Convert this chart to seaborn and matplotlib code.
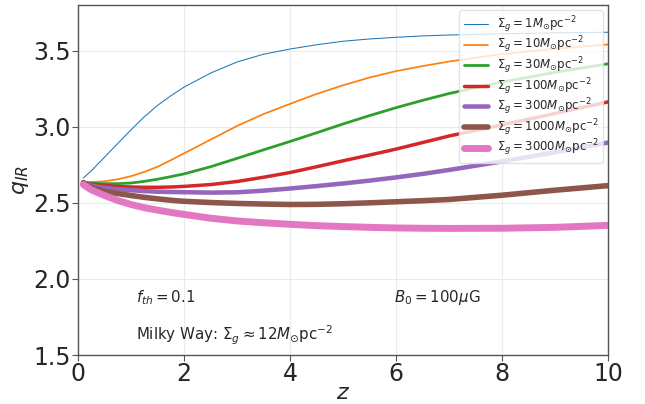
import numpy as np
import pandas as pd
import matplotlib
matplotlib.use("Agg")
import matplotlib.pyplot as plt
import seaborn as sns

z = [0.1, 0.25, 0.5, 0.75, 1.0, 1.25, 1.5, 1.75, 2.0, 2.5, 3.0, 3.5, 4.0,
     4.5, 5.0, 5.5, 6.0, 6.5, 7.0, 8.0, 9.0, 10.0]
sigma_labels = ["1", "10", "30", "100", "300", "1000", "3000"]
q_1 = [2.663, 2.71, 2.80, 2.89, 2.98, 3.065, 3.14, 3.203, 3.26, 3.352, 3.425, 3.476,
       3.51, 3.538, 3.561, 3.576, 3.587, 3.596, 3.602, 3.61, 3.616, 3.62]
q_10 = [2.635, 2.637, 2.641, 2.655, 2.675, 2.703, 2.737, 2.78, 2.825, 2.915, 3.005,
        3.083, 3.15, 3.215, 3.272, 3.323, 3.365, 3.398, 3.428, 3.477, 3.512, 3.54]
q_30 = [2.633, 2.628, 2.626, 2.626, 2.63, 2.641, 2.655, 2.672, 2.69, 2.737, 2.792,
        2.848, 2.903, 2.96, 3.018, 3.073, 3.125, 3.173, 3.218, 3.293, 3.357, 3.413]
q_100 = [2.633, 2.622, 2.614, 2.607, 2.604, 2.602, 2.602, 2.604, 2.608, 2.62, 2.64,
         2.668, 2.699, 2.737, 2.776, 2.814, 2.853, 2.896, 2.939, 3.012, 3.087, 3.163]
q_300 = [2.633, 2.612, 2.598, 2.589, 2.583, 2.577, 2.573, 2.571, 2.57, 2.567, 2.569,
         2.58, 2.594, 2.61, 2.627, 2.646, 2.667, 2.69, 2.716, 2.772, 2.832, 2.896]
q_1000 = [2.633, 2.60, 2.576, 2.561, 2.548, 2.536, 2.526, 2.517, 2.51, 2.502, 2.496,
          2.492, 2.489, 2.49, 2.494, 2.50, 2.507, 2.514, 2.522, 2.55, 2.583, 2.613]
q_3000 = [2.62, 2.585, 2.548, 2.515, 2.489, 2.468, 2.452, 2.437, 2.424, 2.399, 2.381,
          2.369, 2.359, 2.35, 2.344, 2.339, 2.335, 2.333, 2.332, 2.333, 2.339, 2.352]
series = [q_1, q_10, q_30, q_100, q_300, q_1000, q_3000]

x_ticks = [0, 2, 4, 6, 8, 10]
y_ticks = [1.5, 2.0, 2.5, 3.0, 3.5]

colors = ["#1f77b4", "#ff7f0e", "#2ca02c", "#d62728", "#9467bd", "#8c564b", "#e377c2"]
widths = [0.75, 1.25, 2.0, 2.5, 3.25, 4.0, 5.0]

sns.set_style("whitegrid", {"axes.edgecolor": "#555555", "grid.color": "#ebebeb",
                            "xtick.bottom": True, "ytick.left": True})
plt.rcParams["font.family"] = ["DejaVu Sans"]

fig = plt.figure(figsize=(6.45, 4.04), dpi=100)
ax = fig.add_axes([0.121, 0.121, 0.822, 0.867])

for lab, q, c, w in zip(sigma_labels, series, colors, widths):
    df = pd.DataFrame({"z": z, "q": q})
    sns.lineplot(data=df, x="z", y="q", ax=ax, color=c, linewidth=w,
                 label=r"$\Sigma_g = %s M_{\odot}\mathrm{pc}^{-2}$" % lab)

ax.set_xlim(0, 10)
ax.set_ylim(1.5, 3.8)
ax.set_xticks(x_ticks)
ax.set_yticks(y_ticks)
ax.tick_params(axis="both", labelsize=17, length=4, width=0.8, color="#555555", pad=1)
ax.set_xlabel(r"$z$", fontsize=16, labelpad=-2)
ax.set_ylabel(r"$q_{IR}$", fontsize=16, labelpad=2)
for s in ax.spines.values():
    s.set_linewidth(1.0)

ax.text(1.1, 1.88, r"$f_{th} = 0.1$", fontsize=10.8, va="center")
ax.text(5.95, 1.88, r"$B_0 = 100\mu$G", fontsize=10.8, va="center")
ax.text(1.1, 1.63, r"Milky Way: $\Sigma_g \approx 12M_{\odot}$pc$^{-2}$", fontsize=10.8, va="center")

leg = ax.legend(loc="upper right", fontsize=8.5, frameon=True, borderaxespad=0.45,
                labelspacing=0.0, handlelength=2.1, handletextpad=0.7, borderpad=0.35)
leg.get_frame().set_edgecolor("#dddddd")

fig.savefig("out.png", dpi=100)
